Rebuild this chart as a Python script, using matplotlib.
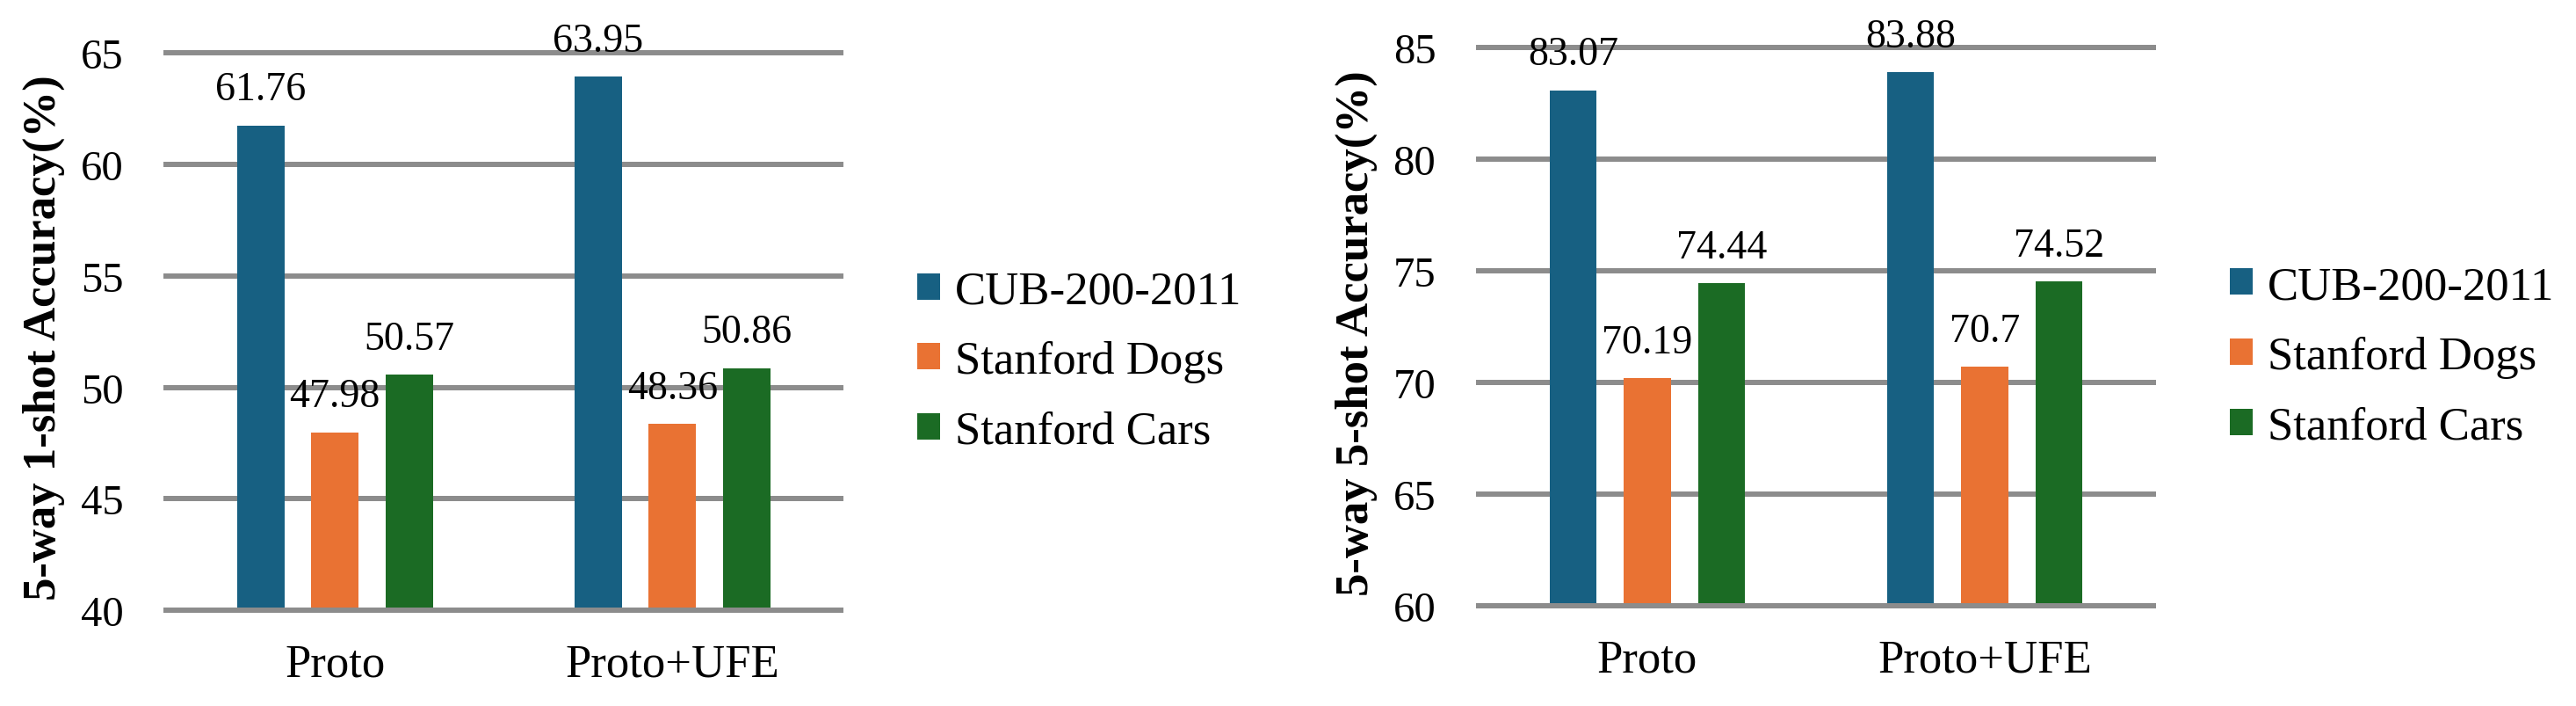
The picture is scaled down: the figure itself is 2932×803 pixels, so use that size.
import matplotlib
matplotlib.use('Agg')
import matplotlib.pyplot as plt
import numpy as np

# Data
methods = ['Proto', 'Proto+UFE']
datasets = ['CUB-200-2011', 'Stanford Dogs', 'Stanford Cars']
acc_1shot = {
    'CUB-200-2011': [61.76, 63.95],
    'Stanford Dogs': [47.98, 48.36],
    'Stanford Cars': [50.57, 50.86],
}
acc_5shot = {
    'CUB-200-2011': [83.07, 83.88],
    'Stanford Dogs': [70.19, 70.7],
    'Stanford Cars': [74.44, 74.52],
}
colors = ['#176082', '#E97233', '#1B6B24']
grid_color = '#8c8c8c'

plt.rcParams['font.family'] = ['Liberation Serif', 'DejaVu Serif']

fig = plt.figure(figsize=(29.32, 8.04), dpi=100)
ax1 = fig.add_axes([0.0645, 0.1356, 0.262, 0.788])
ax2 = fig.add_axes([0.574, 0.1418, 0.262, 0.790])


def draw(ax, data, ylim, ylabel):
    x = np.arange(len(methods))
    offsets = [-0.22, 0.0, 0.22]
    handles = []
    for i, name in enumerate(datasets):
        bars = ax.bar(x + offsets[i], data[name], width=0.14, bottom=0,
                      color=colors[i], label=name, zorder=1)
        ax.bar_label(bars, labels=['{:g}'.format(v) for v in data[name]],
                     padding=14, fontsize=33)
        handles.append(bars)
    ax.set_ylim(*ylim)
    ax.set_xlim(-0.5, 1.5)
    ax.set_yticks(np.arange(ylim[0], ylim[1] + 1, 5))
    ax.set_xticks(x)
    ax.set_xticklabels(methods, fontsize=38)
    ax.tick_params(axis='y', length=0, pad=35, labelsize=35)
    ax.tick_params(axis='x', length=0, pad=27)
    ax.yaxis.grid(True, color=grid_color, linewidth=4.3)
    ax.set_axisbelow(True)
    for gl in ax.get_ygridlines():
        gl.set_clip_on(False)
    for side in ['top', 'right', 'left']:
        ax.spines[side].set_visible(False)
    ax.spines['bottom'].set_color(grid_color)
    ax.spines['bottom'].set_linewidth(4.3)
    ax.set_ylabel(ylabel, fontsize=38, fontweight='bold')
    ax.yaxis.set_label_coords(-0.15, 0.49)
    return handles


h = draw(ax1, acc_1shot, (40, 65), '5-way 1-shot Accuracy(%)')
draw(ax2, acc_5shot, (60, 85), '5-way 5-shot Accuracy(%)')

for xa, ya in [(0.356, 0.4876), (0.8655, 0.494)]:
    fig.legend(handles=h, labels=datasets, loc='center left',
               bbox_to_anchor=(xa, ya), frameon=False, fontsize=38,
               handlelength=0.5, handleheight=0.5, handletextpad=0.32,
               labelspacing=0.6, borderpad=0, borderaxespad=0)

fig.savefig('out.png', dpi=100)
